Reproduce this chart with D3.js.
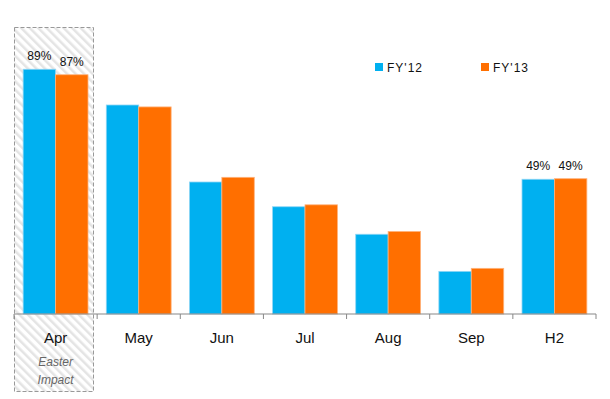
<!DOCTYPE html>
<html>
<head>
<meta charset="utf-8">
<script src="https://d3js.org/d3.v7.min.js"></script>
<style>
  body { margin: 0; background: #fff; }
  text { font-family: "Liberation Sans", Arial, sans-serif; }
</style>
</head>
<body>
<div id="chart"></div>
<script>
var categories = ["Apr", "May", "Jun", "Jul", "Aug", "Sep", "H2"];
var seriesNames = ["FY'12", "FY'13"];
var fy12 = [89, 76, 48, 39, 29, 15.5, 49];
var fy13 = [87, 75.3, 49.7, 39.7, 30, 16.6, 49.2];
var valueLabels = { "Apr": ["89%", "87%"], "H2": ["49%", "49%"] };
var colors = ["#00b0f0", "#ff6f00"];

var width = 610, height = 399;
var baseY = 314;

var svg = d3.select("#chart").append("svg")
    .attr("width", width)
    .attr("height", height);

var x = d3.scaleBand()
    .domain(categories)
    .range([14, 596])
    .paddingInner(0.22)
    .paddingOuter(0.11);

var x1 = d3.scaleBand()
    .domain(seriesNames)
    .range([0, x.bandwidth()]);

var y = d3.scaleLinear()
    .domain([0, 100])
    .range([baseY, baseY - 275]);

// hatched "Easter impact" box
var defs = svg.append("defs");
var pat = defs.append("pattern")
    .attr("id", "hatch")
    .attr("patternUnits", "userSpaceOnUse")
    .attr("width", 6)
    .attr("height", 6)
    .attr("patternTransform", "rotate(-45)");
pat.append("rect").attr("width", 6).attr("height", 6).attr("fill", "#fff");
pat.append("rect").attr("width", 2.5).attr("height", 6).attr("fill", "#e4e4e4");

var step = x.step();
var boxX0 = x("Apr") - x.paddingOuter() * step;
svg.append("rect")
    .attr("x", boxX0 + 0.5)
    .attr("y", 27.5)
    .attr("width", 79)
    .attr("height", 364)
    .attr("fill", "url(#hatch)")
    .attr("stroke", "#999")
    .attr("stroke-dasharray", "4,2");

var data = categories.map(function (c, i) {
    return { cat: c, vals: [fy12[i], fy13[i]] };
});

var groups = svg.selectAll("g.grp")
    .data(data)
    .enter()
    .append("g")
    .attr("class", "grp")
    .attr("transform", function (d) { return "translate(" + x(d.cat) + ",0)"; });

groups.selectAll("rect")
    .data(function (d) {
        return d.vals.map(function (v, j) { return { s: seriesNames[j], v: v, j: j }; });
    })
    .enter()
    .append("rect")
    .attr("x", function (d) { return x1(d.s); })
    .attr("y", function (d) { return y(d.v); })
    .attr("width", x1.bandwidth())
    .attr("height", function (d) { return baseY - y(d.v); })
    .attr("fill", function (d) { return colors[d.j]; })
    .attr("stroke", function (d) { return d.j === 0 ? "#8fd6f5" : "#ffb27a"; })
    .attr("stroke-width", 0.8);

// value labels
groups.each(function (d) {
    var lbl = valueLabels[d.cat];
    if (!lbl) return;
    d3.select(this).selectAll("text.val")
        .data(d.vals)
        .enter()
        .append("text")
        .attr("class", "val")
        .attr("x", function (v, j) { return x1(seriesNames[j]) + x1.bandwidth() / 2; })
        .attr("y", function (v) { return y(v) - 9; })
        .attr("text-anchor", "middle")
        .attr("font-size", 12)
        .attr("fill", "#111")
        .text(function (v, j) { return lbl[j]; });
});

// axis
var axisG = svg.append("g").attr("transform", "translate(0," + baseY + ")");
axisG.append("line")
    .attr("x1", 14).attr("x2", 596)
    .attr("stroke", "#888").attr("stroke-width", 1.2);
var bounds = categories.map(function (c) { return x(c) - x.paddingOuter() * step; })
    .concat([596]);
axisG.selectAll("line.tick")
    .data(bounds)
    .enter()
    .append("line")
    .attr("class", "tick")
    .attr("x1", function (d) { return d; })
    .attr("x2", function (d) { return d; })
    .attr("y1", 0).attr("y2", 5)
    .attr("stroke", "#888");
axisG.selectAll("text.cat")
    .data(categories)
    .enter()
    .append("text")
    .attr("class", "cat")
    .attr("x", function (c) { return x(c) + x.bandwidth() / 2; })
    .attr("y", 29)
    .attr("text-anchor", "middle")
    .attr("font-size", 15)
    .attr("fill", "#111")
    .text(function (c) { return c; });

svg.append("text")
    .attr("x", x("Apr") + x.bandwidth() / 2)
    .attr("y", 366)
    .attr("text-anchor", "middle")
    .attr("font-size", 12)
    .attr("font-style", "italic")
    .attr("fill", "#666")
    .text("Easter");
svg.append("text")
    .attr("x", x("Apr") + x.bandwidth() / 2)
    .attr("y", 384)
    .attr("text-anchor", "middle")
    .attr("font-size", 12)
    .attr("font-style", "italic")
    .attr("fill", "#666")
    .text("Impact");

// legend
var legendX = [375, 481];
var legend = svg.selectAll("g.leg")
    .data(seriesNames)
    .enter()
    .append("g")
    .attr("class", "leg")
    .attr("transform", function (d, i) { return "translate(" + legendX[i] + ",63)"; });
legend.append("rect")
    .attr("width", 8).attr("height", 8)
    .attr("fill", function (d, i) { return colors[i]; });
legend.append("text")
    .attr("x", 12).attr("y", 8.5)
    .attr("font-size", 12)
    .attr("letter-spacing", 1)
    .attr("fill", "#111")
    .text(function (d) { return d; });
</script>
</body>
</html>
